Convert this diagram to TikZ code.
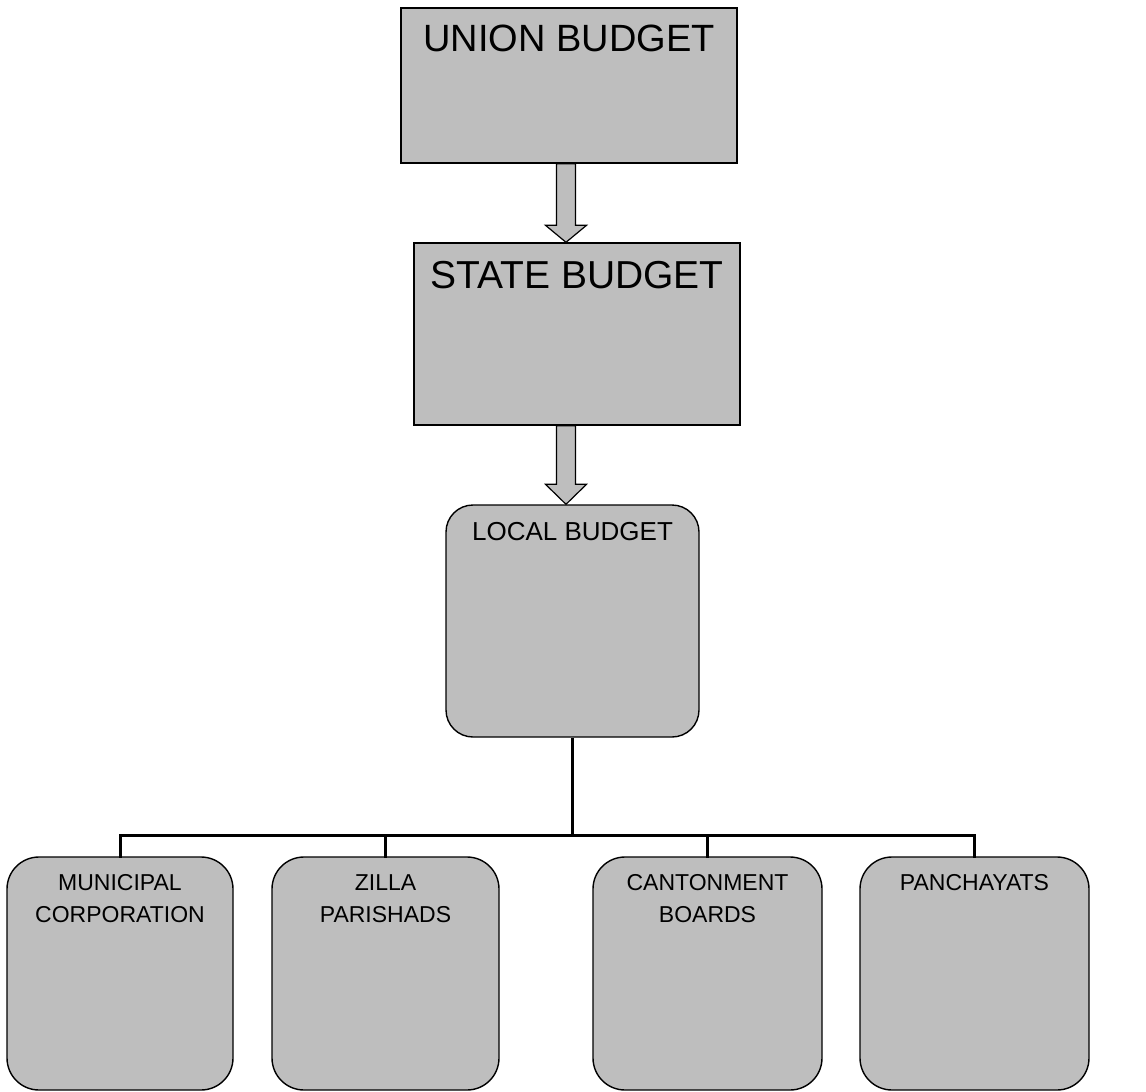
\documentclass[tikz,border=0pt]{standalone}
\usepackage{fontspec}
\setmainfont{Liberation Sans}
\usetikzlibrary{calc}
\definecolor{boxgray}{RGB}{190,190,190}
\tikzset{
  box/.style={draw=black, fill=boxgray, line width=1.4pt, inner sep=0pt},
  sqbox/.style={box},
  rbox/.style={box, rounded corners=#1},
  lbl/.style={anchor=north, inner sep=0pt, align=center, text=black},
  blockarrow/.style={draw=black, fill=boxgray, line width=1.2pt, line join=miter},
  tree/.style={draw=black, line width=3pt}
}
\begin{document}
\begin{tikzpicture}[x=1pt,y=-1pt]
\useasboundingbox (0,0) rectangle (1146,1092);
% main boxes
\node[sqbox, minimum width=336pt, minimum height=155pt] (union) at (569,85.5) {};
\node[sqbox, minimum width=326pt, minimum height=182pt] (state) at (577,334) {};
\node[rbox=27pt, minimum width=253pt, minimum height=232pt] (local) at (572.5,621) {};
% children
\node[rbox=32pt, minimum width=226pt, minimum height=233pt] (mun) at (120,973.5) {};
\node[rbox=32pt, minimum width=227pt, minimum height=233pt] (zilla) at (385.5,973.5) {};
\node[rbox=32pt, minimum width=229pt, minimum height=233pt] (cant) at (707.5,973.5) {};
\node[rbox=32pt, minimum width=229pt, minimum height=233pt] (panch) at (974.5,973.5) {};
% labels
\node[lbl, font=\fontsize{38}{40}\selectfont] (tunion) at ([yshift=-17pt]union.north) {UNION BUDGET};
\node[lbl, font=\fontsize{39}{41}\selectfont] (tstate) at ([yshift=-19pt]state.north) {STATE BUDGET};
\node[lbl, font=\fontsize{26}{28}\selectfont] (tlocal) at ([yshift=-18pt]local.north) {LOCAL BUDGET};
\node[lbl, font=\fontsize{23}{32}\selectfont] (tmun) at ([yshift=-18pt]mun.north) {MUNICIPAL\\CORPORATION};
\node[lbl, font=\fontsize{23}{32}\selectfont] (tzilla) at ([yshift=-18pt]zilla.north) {ZILLA\\PARISHADS};
\node[lbl, font=\fontsize{23}{32}\selectfont] (tcant) at ([yshift=-18pt]cant.north) {CANTONMENT\\BOARDS};
\node[lbl, font=\fontsize{23}{32}\selectfont] (tpanch) at ([yshift=-18pt]panch.north) {PANCHAYATS};
% block arrows
\coordinate (a1) at ([xshift=-3pt]union.south);
\coordinate (b1) at (a1 |- state.north);
\coordinate (a2) at ([xshift=-11pt]state.south);
\coordinate (b2) at (a2 |- local.north);
\draw[blockarrow] let \p1=(a1), \p2=(b1) in
  (\x1-9.5pt,\y1) -- (\x1-9.5pt,\y2+17pt) -- (\x1-20.5pt,\y2+17pt) -- (\x2,\y2)
  -- (\x1+20.5pt,\y2+17pt) -- (\x1+9.5pt,\y2+17pt) -- (\x1+9.5pt,\y1) -- cycle;
\draw[blockarrow] let \p1=(a2), \p2=(b2) in
  (\x1-9.5pt,\y1) -- (\x1-9.5pt,\y2+20pt) -- (\x1-20.5pt,\y2+20pt) -- (\x2,\y2)
  -- (\x1+20.5pt,\y2+20pt) -- (\x1+9.5pt,\y2+20pt) -- (\x1+9.5pt,\y1) -- cycle;
% tree
\coordinate (bar) at ($(local.south)+(0,98)$);
\draw[tree] (local.south) -- (bar);
\foreach \c in {mun,zilla,cant,panch} \draw[tree, line cap=rect] (bar) -| (\c.north);
\end{tikzpicture}
\end{document}
